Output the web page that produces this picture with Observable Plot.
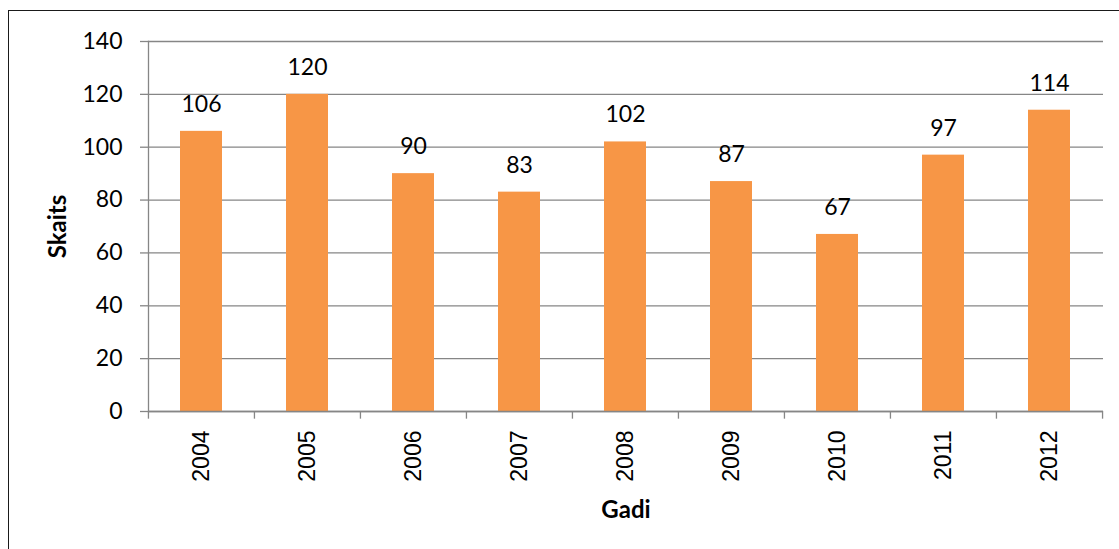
<!DOCTYPE html>
<html>
<head>
<meta charset="utf-8">
<script src="https://cdn.jsdelivr.net/npm/d3@7"></script>
<script src="https://cdn.jsdelivr.net/npm/@observablehq/plot@0.6"></script>
<style>
  html, body { margin: 0; padding: 0; background: #fff; overflow: hidden; }
  #wrap { position: relative; width: 1119px; height: 549px; }
  #border { position: absolute; left: 8px; top: 10px; width: 1200px; height: 700px;
            border-left: 1px solid #1a1a1a; border-top: 1px solid #1a1a1a; pointer-events: none; }
  #chart { position: absolute; left: 0; top: 0; }
</style>
</head>
<body>
<div id="wrap"><div id="chart"></div><div id="border"></div></div>
<script>
const years = ["2004", "2005", "2006", "2007", "2008", "2009", "2010", "2011", "2012"];
const counts = [106, 120, 90, 83, 102, 87, 67, 97, 114];
const yTicks = [0, 20, 40, 60, 80, 100, 120, 140];

const data = years.map((y, i) => ({year: y, value: counts[i]}));

const W = 1119, H = 549, ML = 148, MR = 16, MT = 41, MB = 138;
const step = (W - ML - MR) / years.length;
const grey = "#868686";
const numFont = "Lato, 'Open Sans', sans-serif";

const chart = Plot.plot({
  width: W,
  height: H,
  marginLeft: ML,
  marginRight: MR,
  marginTop: MT,
  marginBottom: MB,
  style: {background: "transparent", overflow: "visible"},
  x: {domain: years, paddingInner: 0.6, paddingOuter: 0.3, label: null},
  y: {domain: [0, 140], label: null},
  marks: [
    Plot.gridY(yTicks, {stroke: grey, strokeOpacity: 1, strokeWidth: 1.3}),
    Plot.barY(data, {x: "year", y: "value", fill: "#F79646"}),
    Plot.frame({anchor: "left", stroke: grey, strokeWidth: 1.3}),
    Plot.ruleY([0], {stroke: grey, strokeWidth: 1.3}),
    Plot.axisY(yTicks, {tickSize: 8, tickPadding: 18, stroke: grey, strokeWidth: 1.3,
      fontSize: 23, fontFamily: numFont, fill: "#000", label: null}),
    // category separator ticks below the axis
    Plot.ruleX(years, {x: d => d, y1: 0, y2: -2.9, dx: -step / 2, stroke: grey, strokeWidth: 1.3}),
    Plot.ruleX(years.slice(-1), {x: d => d, y1: 0, y2: -2.9, dx: step / 2, stroke: grey, strokeWidth: 1.3}),
    Plot.axisX({tickSize: 0, tickPadding: 19, tickRotate: -90, fontSize: 23,
      fontFamily: "'Liberation Sans', Arial, sans-serif", fill: "#000", label: null}),
    Plot.text(data, {x: "year", y: "value", text: d => String(d.value), dy: -27,
      lineAnchor: "middle", fontSize: 23, fontFamily: numFont, fill: "#000"}),
    Plot.text(["Skaits"], {frameAnchor: "left", dx: -90, rotate: -90, textAnchor: "middle",
      lineAnchor: "middle", fontSize: 24, fontWeight: "bold", fontFamily: numFont, fill: "#000"}),
    Plot.text(["Gadi"], {frameAnchor: "bottom", dy: 99, textAnchor: "middle", lineAnchor: "middle",
      fontSize: 24, fontWeight: "bold", fontFamily: numFont, fill: "#000"})
  ]
});
document.getElementById("chart").appendChild(chart);
</script>
</body>
</html>
